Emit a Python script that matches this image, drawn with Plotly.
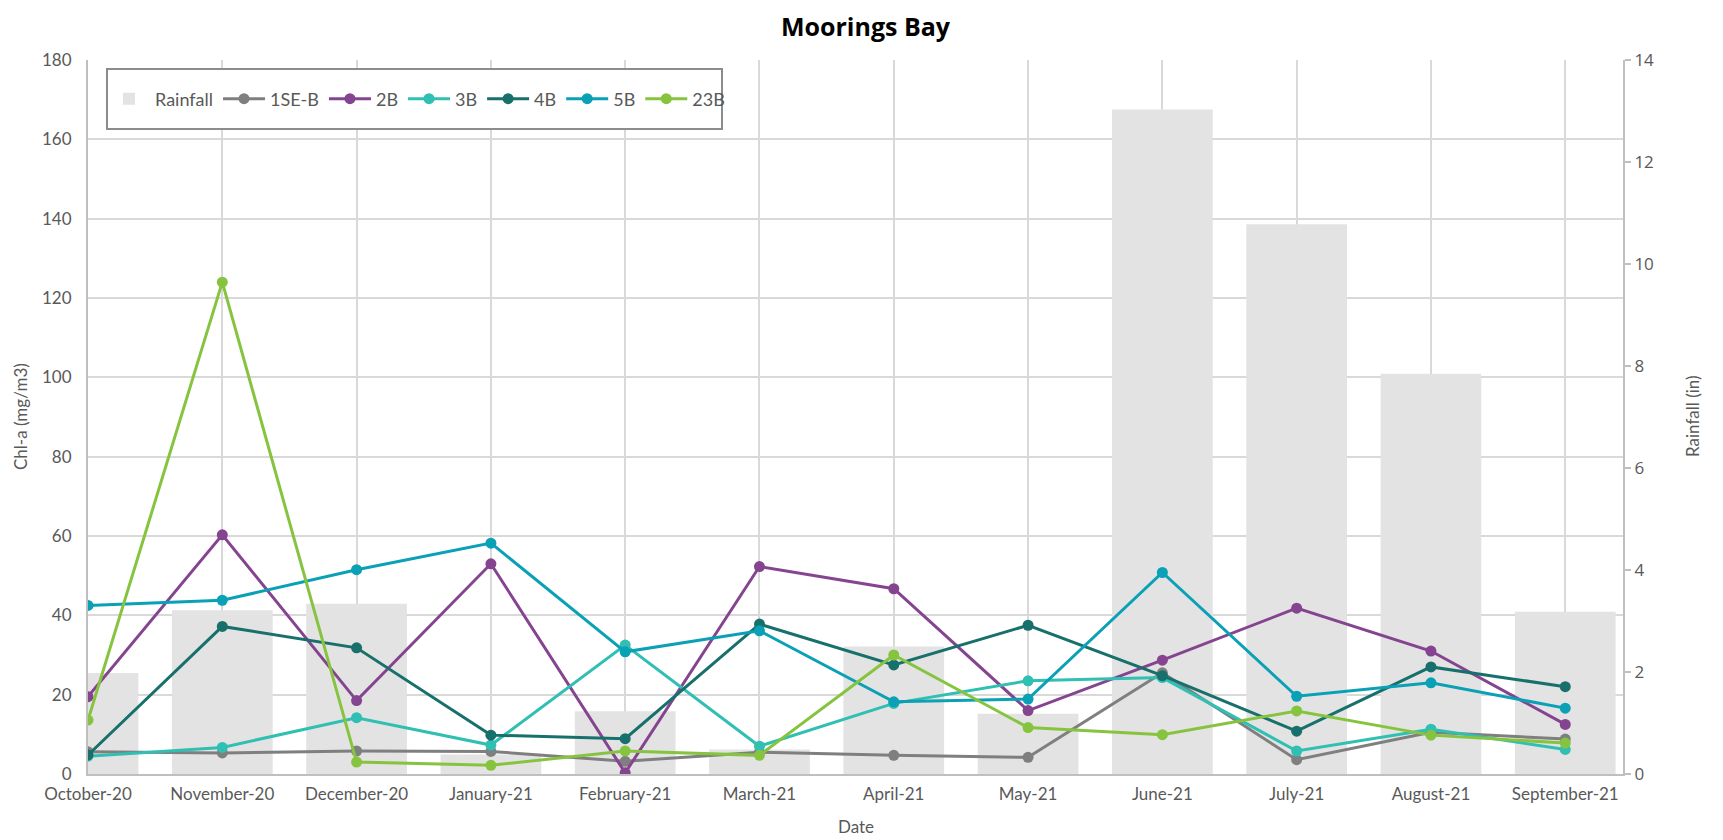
import plotly.graph_objects as go

months = ["October-20", "November-20", "December-20", "January-21", "February-21",
          "March-21", "April-21", "May-21", "June-21", "July-21", "August-21",
          "September-21"]

rainfall = [1.98, 3.21, 3.34, 0.38, 1.23, 0.48, 2.5, 1.18, 13.03, 10.78, 7.85, 3.18]

s_1seb = [5.6, 5.3, 5.8, 5.7, 3.2, 5.5, 4.7, 4.2, 25.5, 3.6, 10.5, 8.8]
s_2b = [19.5, 60.3, 18.5, 53.0, 0.3, 52.3, 46.7, 16.0, 28.7, 41.8, 31.0, 12.5]
s_3b = [4.5, 6.7, 14.2, 7.3, 32.5, 7.0, 17.8, 23.5, 24.3, 5.8, 11.3, 6.2]
s_4b = [4.8, 37.2, 31.8, 9.8, 8.9, 37.8, 27.5, 37.5, 24.8, 10.8, 27.0, 22.0]
s_5b = [42.5, 43.8, 51.5, 58.2, 30.8, 36.1, 18.2, 18.9, 50.8, 19.6, 23.0, 16.6]
s_23b = [13.6, 124.0, 3.0, 2.2, 5.8, 4.7, 30.0, 11.7, 9.9, 15.9, 9.8, 7.8]

series = [
    ("1SE-B", s_1seb, "#7f7f7f"),
    ("2B", s_2b, "#85448f"),
    ("3B", s_3b, "#2fbfb3"),
    ("4B", s_4b, "#17706b"),
    ("5B", s_5b, "#0aa0b5"),
    ("23B", s_23b, "#86c440"),
]

font_main = "Lato, 'Open Sans', sans-serif"
txt = "#595959"
grid = "#d9d9d9"
axcol = "#bfbfbf"

# page body adds an 8px offset, so the figure is 8px smaller than the window
W, H = 1715, 832
L, R, T, B = 80, 100, 52, 66
pw, ph = W - L - R, H - T - B


def px_x(x):
    # page pixel -> paper fraction
    return (x - 8 - L) / pw


def px_y(y):
    return (H - B - (y - 8)) / ph


fig = go.Figure()

# bars sit on the base axis so the lines (overlay axis) draw on top
fig.add_trace(go.Bar(x=months, y=rainfall, name="Rainfall",
                     marker_color="#e3e3e3", marker_line_width=0,
                     width=0.75, yaxis="y"))

for name, vals, col in series:
    fig.add_trace(go.Scatter(x=months, y=vals, name=name, yaxis="y2",
                             mode="lines+markers",
                             line=dict(color=col, width=3),
                             marker=dict(color=col, size=11)))

fig.update_layout(
    width=W, height=H,
    paper_bgcolor="white", plot_bgcolor="white",
    margin=dict(l=L, r=R, t=T, b=B, autoexpand=False),
    font=dict(family=font_main, color=txt, size=17),
    title=dict(text="<b>Moorings Bay</b>", x=0.5, xanchor="center",
               y=1 - 19 / H, yanchor="middle",
               font=dict(family="'Open Sans', sans-serif", size=25, color="black")),
    showlegend=True,
    legend=dict(orientation="h", x=px_x(103), y=px_y(99), xanchor="left", yanchor="middle",
                borderwidth=0, bgcolor="rgba(0,0,0,0)",
                font=dict(size=18, color=txt), itemwidth=42),
    xaxis=dict(type="category", range=[0, 11.43], showgrid=True, gridcolor=grid,
               gridwidth=1.5, showline=True, linecolor=axcol, linewidth=2,
               ticks="", ticklabelstandoff=4, automargin=False,
               tickfont=dict(size=17, color=txt)),
    yaxis=dict(side="right", range=[0, 14], dtick=2, showgrid=False,
               showline=True, linecolor=axcol, linewidth=2,
               ticks="outside", ticklen=6, tickcolor=axcol, tickwidth=1.5,
               zeroline=False, automargin=False,
               tickfont=dict(family="'Open Sans', sans-serif", size=17, color=txt)),
    yaxis2=dict(side="left", overlaying="y", range=[0, 180], dtick=20,
                showgrid=True, gridcolor=grid, gridwidth=1.5,
                showline=True, linecolor=axcol, linewidth=2, zeroline=False,
                ticks="", ticklabelstandoff=11, automargin=False,
                tickfont=dict(size=17, color=txt)),
)

# legend frame
fig.add_shape(type="rect", xref="paper", yref="paper",
              x0=px_x(107), x1=px_x(722), y0=px_y(129), y1=px_y(69),
              line=dict(color="#8c8c8c", width=2), fillcolor="white", layer="above")

# axis titles
fig.add_annotation(text="Chl-a (mg/m3)", xref="paper", yref="paper",
                   x=px_x(20), y=0.5, textangle=-90, showarrow=False,
                   xanchor="center", yanchor="middle", font=dict(size=17, color=txt))
fig.add_annotation(text="Rainfall (in)", xref="paper", yref="paper",
                   x=px_x(1692), y=0.5, textangle=-90, showarrow=False,
                   xanchor="center", yanchor="middle", font=dict(size=17, color=txt))
fig.add_annotation(text="Date", xref="paper", yref="paper",
                   x=0.5, y=px_y(826), showarrow=False,
                   xanchor="center", yanchor="middle", font=dict(size=17, color=txt))

fig.write_html("out.html")
